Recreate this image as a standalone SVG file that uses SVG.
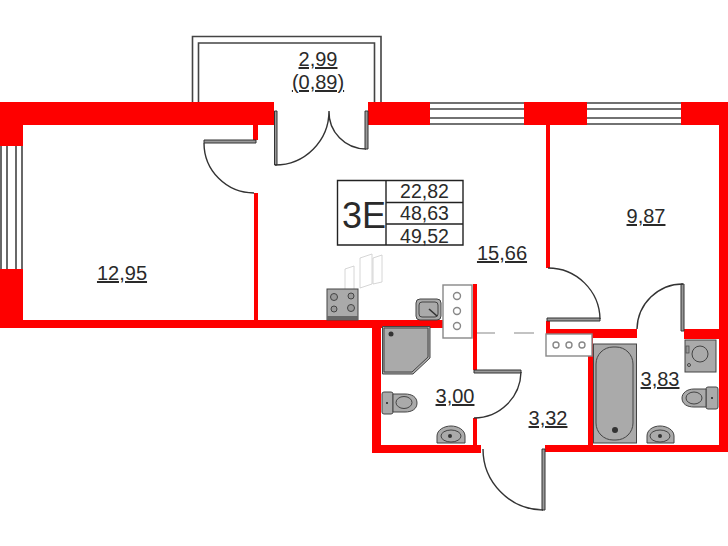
<svg xmlns="http://www.w3.org/2000/svg" width="728" height="546" viewBox="0 0 728 546">
<style>
.w{fill:#fe0000}
.ln{fill:none;stroke:#333;stroke-width:1.4}
.wl{fill:none;stroke:#444;stroke-width:1.6}
.leaf{fill:#999;stroke:#333;stroke-width:1}
.fx{fill:#aaa;stroke:#444;stroke-width:1}
.fxl{fill:none;stroke:#444;stroke-width:1}
.box{fill:#fff;stroke:#888;stroke-width:1.4}
.c{fill:#fff;stroke:#888;stroke-width:1.4}
.bn{fill:#999;stroke:#444;stroke-width:1}
.ghost{fill:none;stroke:#ccc;stroke-width:.8}
text{font-family:"Liberation Sans",Arial,sans-serif;fill:#2a2a2a;text-anchor:middle}
.a{font-size:20px;text-decoration:underline}
.v{font-size:19.5px}
</style>
<rect width="728" height="546" fill="#fff"/>
<g id="balcony">
<path class="wl" d="M192.500 102V36.500H381V102M198.500 102V43H374.500V102"/>
</g>
<g id="windows">
<path class="wl" d="M430 103H524M430 109H524M430 118H524M430 124H524M587 103H681M587 109H681M587 118H681M587 124H681M1 146V270M7 146V270M16 146V270M22 146V270"/>
</g>
<g id="walls">
<path class="w" d="M0 102H274V125H23V146H0Z"/>
<path class="w" d="M0 269H23V320H443V328H381V445H473V418H477V445H481V453H372V328H0Z"/>
<path class="w" d="M253 125H258V140H253Z"/>
<path class="w" d="M254 193H258V321H254Z"/>
<path class="w" d="M368 102H430V125H368Z"/>
<path class="w" d="M524 102H587V125H550V268H546V125H524Z"/>
<path class="w" d="M681 102H728V452H545V445H588V338H546V321H550V329H637V338H593V445H719V339H684V329H719V125H681Z"/>
<path class="w" d="M473 284H477V370H473Z"/>
</g>
<g id="doors">
<path class="leaf" d="M274.500 111H277V165H274.500Z"/>
<path class="ln" d="M275 165A54 54 0 0 0 329 111A37 37 0 0 0 366 149"/>
<path class="leaf" d="M365 111H368V149H365Z"/>
<path class="leaf" d="M204 140H256V143H204Z"/>
<path class="ln" d="M204 143A50 50 0 0 0 254 193"/>
<path class="leaf" d="M547 318H600V321H547Z"/>
<path class="ln" d="M548 268A52 52 0 0 1 600 319"/>
<path class="leaf" d="M681 284H684V331H681Z"/>
<path class="ln" d="M637 329A46 46 0 0 1 683 284"/>
<path class="leaf" d="M474 370H521V373H474Z"/>
<path class="ln" d="M521 372A47 47 0 0 1 474 418"/>
<path class="leaf" d="M542 449H545V510H542Z"/>
<path class="ln" d="M483 449A61 61 0 0 0 543 510"/>
</g>
<g id="opening">
<path d="M477 333H495M514 333H534" fill="none" stroke="#888" stroke-width="1.2"/>
</g>
<g id="plate">
<path fill="#fff" stroke="#222" stroke-width="1.4" d="M337.500 180.500H463V245H337.500ZM386 180.500V245M386 202.500H463M386 224H463"/>
<text x="364" y="228" font-size="36">3E</text>
<text class="v" x="424.500" y="198">22,82</text>
<text class="v" x="424.500" y="220">48,63</text>
<text class="v" x="424.500" y="243">49,52</text>
</g>
<g id="fridge">
<path class="ghost" d="M345 269L354 266V292H345ZM360 258L372 254V284L360 288ZM373 258L382 255V282L373 284Z"/>
</g>
<g id="stove">
<rect class="fx" x="327" y="289" width="31" height="31"/>
<rect x="327" y="316" width="31" height="4" fill="#666"/>
<circle class="bn" cx="334" cy="297" r="3.500"/><circle class="bn" cx="351" cy="296" r="3"/>
<circle class="bn" cx="334" cy="309" r="3"/><circle class="bn" cx="351" cy="308" r="3.500"/>
</g>
<g id="kitchen-sink">
<rect class="fx" x="416" y="299" width="25" height="21" rx="4"/>
<rect class="fxl" x="419" y="302" width="19" height="15" rx="3"/>
<path d="M429 309L437 316" stroke="#333" stroke-width="1.600" fill="none"/>
</g>
<g id="riser-1">
<rect class="box" x="443" y="285" width="29" height="53"/>
<circle class="c" cx="457" cy="296" r="3.500"/><circle class="c" cx="457" cy="311" r="3.500"/><circle class="c" cx="457" cy="326" r="3.500"/>
</g>
<g id="riser-2">
<rect class="box" x="546" y="334" width="46" height="22"/>
<circle class="c" cx="556" cy="345" r="3"/><circle class="c" cx="569" cy="345" r="3"/><circle class="c" cx="582" cy="345" r="3"/>
</g>
<g id="shower">
<path class="fx" d="M382.500 326.500H430V358L413 374H382.500Z"/>
<path class="fxl" d="M384 328H428V357L412 372H384Z"/>
<circle cx="391" cy="334" r="2.500" fill="#333"/>
</g>
<g id="toilet-1">
<rect class="fx" x="382" y="392" width="11" height="22" rx="2"/>
<path class="fx" d="M393 394H405C412 394 417 397 417 403C417 409 412 412 405 412H393Z"/>
<ellipse class="fxl" cx="404" cy="402.500" rx="8" ry="6"/>
<circle cx="387" cy="403" r="1" fill="#222"/>
</g>
<g id="basin-1">
<path class="fx" d="M437 443V436C437 430 444 426 451 426C458 426 465 430 465 436V443Z"/>
<ellipse class="fxl" cx="451" cy="436" rx="10" ry="6"/>
<circle cx="450" cy="436" r="2" fill="#333"/>
</g>
<g id="bath">
<rect class="fx" x="593.500" y="344" width="43" height="99"/>
<rect class="fxl" x="596" y="347" width="37" height="93" rx="17"/>
<circle cx="615" cy="430" r="3" fill="#333"/>
</g>
<g id="washer">
<rect class="fx" x="685" y="340" width="31" height="32"/>
<circle class="fxl" cx="700" cy="354" r="8"/>
<rect x="686" y="346" width="3" height="7" fill="#999" stroke="#444" stroke-width=".7"/>
<circle class="fxl" cx="689" cy="365" r="1.500"/>
</g>
<g id="toilet-2">
<rect class="fx" x="706" y="387" width="12" height="22" rx="2"/>
<path class="fx" d="M706 389H694C687 389 682 393 682 398C682 404 687 407 694 407H706Z"/>
<ellipse class="fxl" cx="694" cy="398" rx="8" ry="6"/>
<circle cx="712" cy="398" r="1" fill="#222"/>
</g>
<g id="basin-2">
<path class="fx" d="M647 443V436C647 430 653 426 660 426C667 426 674 430 674 436V443Z"/>
<ellipse class="fxl" cx="660" cy="436" rx="10" ry="6"/>
<circle cx="660" cy="436" r="2" fill="#333"/>
</g>
<g id="labels">
<text class="a" x="318" y="66">2,99</text>
<text class="a" x="318" y="89">(0,89)</text>
<text class="a" x="122" y="280">12,95</text>
<text class="a" x="502" y="260">15,66</text>
<text class="a" x="646" y="223">9,87</text>
<text class="a" x="455" y="403">3,00</text>
<text class="a" x="548" y="425">3,32</text>
<text class="a" x="660" y="386">3,83</text>
</g>
</svg>
